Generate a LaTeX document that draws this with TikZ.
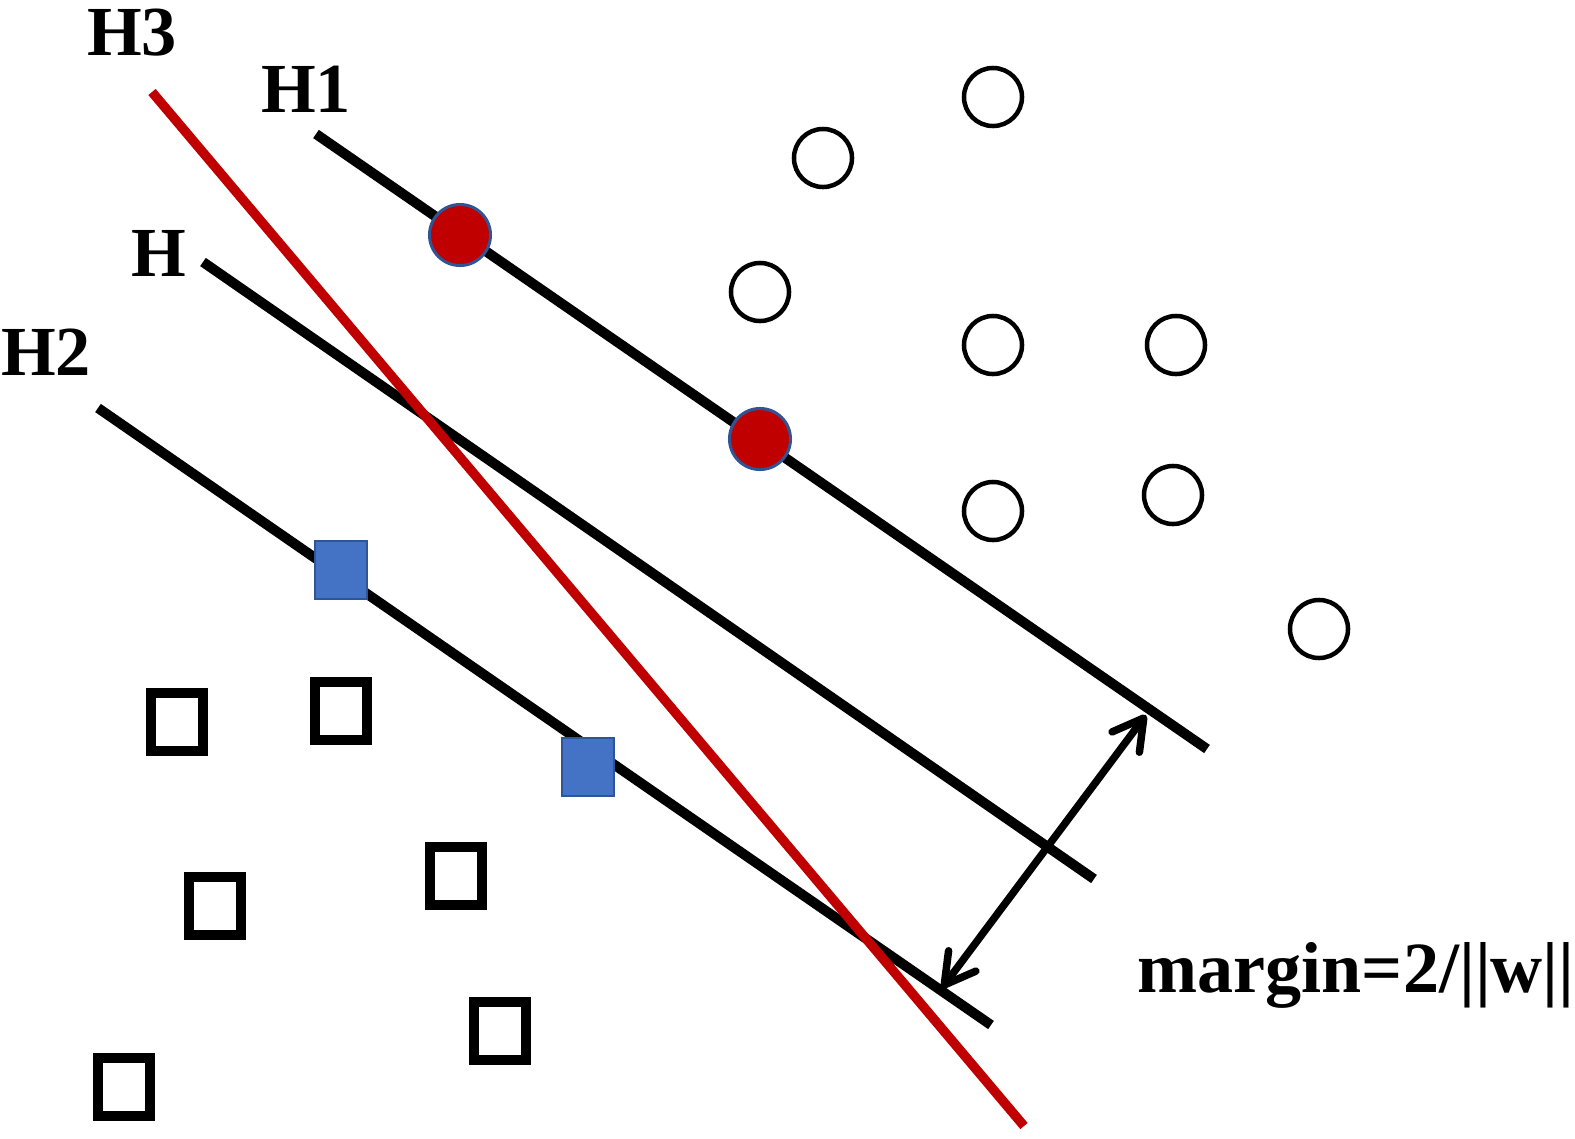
\documentclass[tikz,border=0pt]{standalone}
\usepackage{fontspec}
\setmainfont{Liberation Serif}
\usetikzlibrary{arrows.meta}
\definecolor{svmred}{HTML}{C00000}
\definecolor{svmblue}{HTML}{4472C4}
\definecolor{svmedge}{HTML}{2F5597}
\tikzset{
  plane/.style={line width=0.10cm},
  lab/.style={font=\fontsize{20}{24}\selectfont\bfseries, inner sep=0pt},
  posdot/.style={circle, draw, line width=0.045cm, minimum size=0.58cm, inner sep=0pt},
  possv/.style={circle, draw=svmedge, fill=svmred, line width=0.03cm, minimum size=0.61cm, inner sep=0pt},
  negbox/.style={rectangle, draw, line width=0.10cm, minimum width=0.51cm, minimum height=0.57cm, inner sep=0pt},
  negsv/.style={rectangle, draw=svmedge, fill=svmblue, line width=0.02cm, minimum width=0.51cm, minimum height=0.58cm, inner sep=0pt},
  barb/.tip={Straight Barb[length=0.3cm,width=0.34cm,round]}
}

\begin{document}
\begin{tikzpicture}[x=0.01cm, y=-0.01cm]
\useasboundingbox (0,0) rectangle (1575,1139);

% hyperplanes
\draw[plane] (316,134) -- (1207,749);
\draw[plane] (203,262) -- (1094,879);
\draw[plane] (98,408) -- (991,1025);
\draw[svmred, line width=0.095cm] (152,92) -- (1024,1126);

\node[lab] (h3) at (132,33) {H3};
\node[lab] (h1) at (306,89) {H1};
\node[lab] (h) at (159,253) {H};
\node[lab] (h2) at (46,352) {H2};

% positive class
\node[posdot] (p1) at (993,97) {};
\node[posdot] (p2) at (823,158) {};
\node[posdot] (p3) at (760,292) {};
\node[posdot] (p4) at (993,345) {};
\node[posdot] (p5) at (1176,345) {};
\node[posdot] (p6) at (993,511) {};
\node[posdot] (p7) at (1173,495) {};
\node[posdot] (p8) at (1319,629) {};
\node[possv] (s1) at (460,235) {};
\node[possv] (s2) at (760,439) {};

% negative class
\node[negbox] (n1) at (177,722) {};
\node[negbox] (n2) at (341,711) {};
\node[negbox] (n3) at (215,906) {};
\node[negbox] (n4) at (456,876) {};
\node[negbox] (n5) at (500,1031) {};
\node[negbox] (n6) at (124,1087) {};
\node[negsv] (q1) at (341,570) {};
\node[negsv] (q2) at (588,767) {};

% margin
\coordinate (mtop) at (1146,715);
\coordinate (mbot) at (942,988);
\draw[line width=0.075cm, line cap=round, barb-barb] (mbot) -- (mtop);
\node[lab, font=\fontsize{20.5}{24}\selectfont\bfseries, anchor=base west] (mlab) at (1137,992) {margin=2/||w||};
\end{tikzpicture}
\end{document}
